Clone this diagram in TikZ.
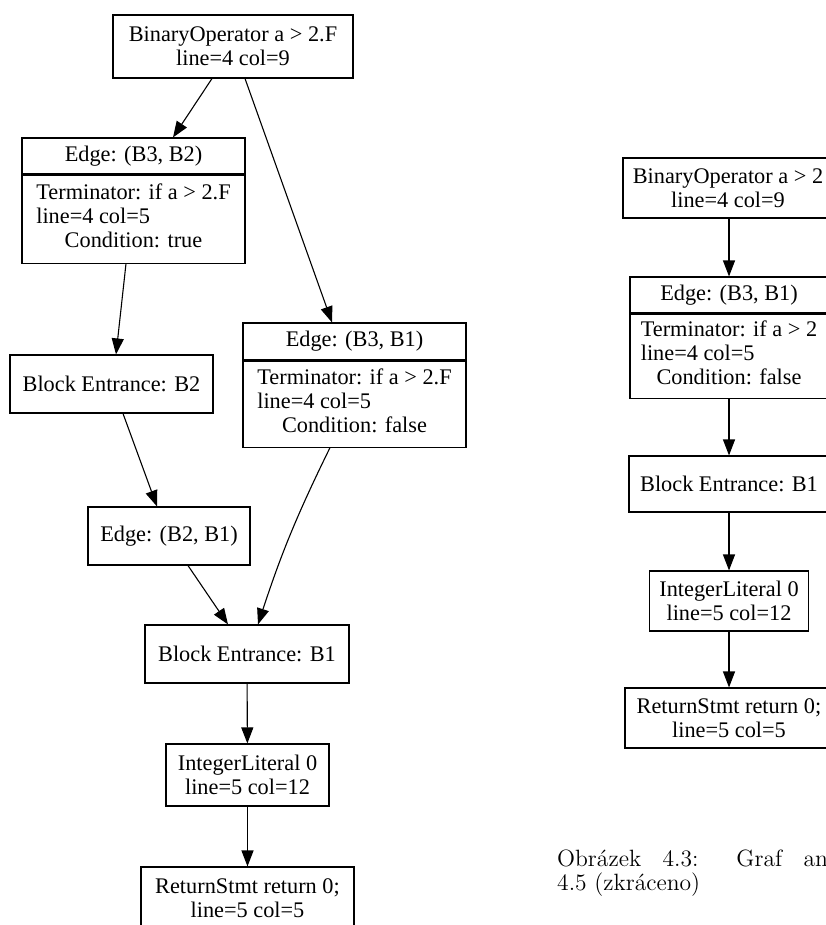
\documentclass[tikz,border=0pt]{standalone}
\usepackage{fontspec}
\usepackage{graphicx}
\newfontfamily\graphfont{Liberation Serif}
\newlength\capw
\usetikzlibrary{arrows.meta,positioning}
\begin{document}
\begin{tikzpicture}[x=1pt,y=-1pt,
  box/.style={draw,line width=1.1pt,inner sep=0pt,align=center,
    font=\graphfont\fontsize{22.3}{24}\selectfont},
  capt/.style={inner sep=0pt,anchor=base west,font=\fontsize{12}{14}\selectfont},
  conn/.style={->,line width=1.1pt},
  >={Triangle[length=16pt,width=12pt]}]
\useasboundingbox (0,0) rectangle (826,925);
\clip (0,0) rectangle (826,925);
\node[box,minimum width=240,minimum height=63] (bin) at (233,46.5) {BinaryOperator a > 2.F\\line=4 col=9};
\node[box,minimum width=223,minimum height=36] (e32h) at (133.5,156) {Edge: (B3, B2)};
\node[box,minimum width=223,minimum height=88,below=0pt of e32h] (e32b) {\begin{tabular}{@{}l@{}}Terminator: if a > 2.F\\line=4 col=5\\\multicolumn{1}{@{}c@{}}{Condition: true}\end{tabular}};
\draw[conn] ([xshift=-21]bin.south) -- ([xshift=39.5]e32h.north);
\node[box,minimum width=223,minimum height=37] (e31h) at (354.5,341.5) {Edge: (B3, B1)};
\node[box,minimum width=223,minimum height=86,below=0pt of e31h] (e31b) {\begin{tabular}{@{}l@{}}Terminator: if a > 2.F\\line=4 col=5\\\multicolumn{1}{@{}c@{}}{Condition: false}\end{tabular}};
\draw[conn] ([xshift=12]bin.south) -- ([xshift=-22.5]e31h.north);
\node[box,minimum width=203,minimum height=58] (be2) at (111.5,384) {Block Entrance: B2};
\draw[conn] ([xshift=-7.5]e32b.south) -- ([xshift=4.5]be2.north);
\node[box,minimum width=162,minimum height=58] (e21) at (169,536) {Edge: (B2, B1)};
\draw[conn] ([xshift=11.5]be2.south) -- ([xshift=-12]e21.north);
\node[box,minimum width=204,minimum height=58] (be1) at (247,654) {Block Entrance: B1};
\draw[conn] ([xshift=19]e21.south) -- ([xshift=-19]be1.north);
\draw[conn] ([xshift=-24.5]e31b.south) to[bend right=4] ([xshift=11]be1.north);
\node[box,minimum width=163,minimum height=62] (lit) at (247.5,775) {IntegerLiteral 0\\line=5 col=12};
\draw[conn] (be1) -- (lit);
\node[box,minimum width=213,minimum height=62] (ret) at (247.5,898) {ReturnStmt return 0;\\line=5 col=5};
\draw[conn] (lit) -- (ret);
\node[box,minimum width=210,minimum height=60] (rbin) at (728,188) {BinaryOperator a > 2\\line=4 col=9};
\node[box,minimum width=198,minimum height=36] (re31h) at (729,295) {Edge: (B3, B1)};
\node[box,minimum width=198,minimum height=84,below=0pt of re31h] (re31b) {\begin{tabular}{@{}l@{}}Terminator: if a > 2\\line=4 col=5\\\multicolumn{1}{@{}c@{}}{Condition: false}\end{tabular}};
\draw[conn] (rbin.south -| re31h.north) -- (re31h.north);
\node[box,minimum width=200,minimum height=56] (rbe1) at (729,484) {Block Entrance: B1};
\draw[conn] (re31b) -- (rbe1);
\node[box,minimum width=159,minimum height=60] (rlit) at (729,601) {IntegerLiteral 0\\line=5 col=12};
\draw[conn] (rbe1) -- (rlit);
\node[box,minimum width=208,minimum height=60] (rret) at (729,718) {ReturnStmt return 0;\\line=5 col=5};
\draw[conn] (rlit) -- (rret);
\node[capt] (cap2) at (557,890) {\resizebox{143pt}{!}{4.5 (zkráceno)}};
\node[capt] (cap1) at (557,866) {\settowidth{\capw}{4.5 (zkráceno)}%
  \pgfmathsetmacro\capscale{143pt/\capw}%
  \pgfmathsetlengthmacro\capline{258pt/\capscale}%
  \scalebox{\capscale}{\makebox[\capline][s]{Obrázek 4.3: Graf a}n}};
\end{tikzpicture}
\end{document}
